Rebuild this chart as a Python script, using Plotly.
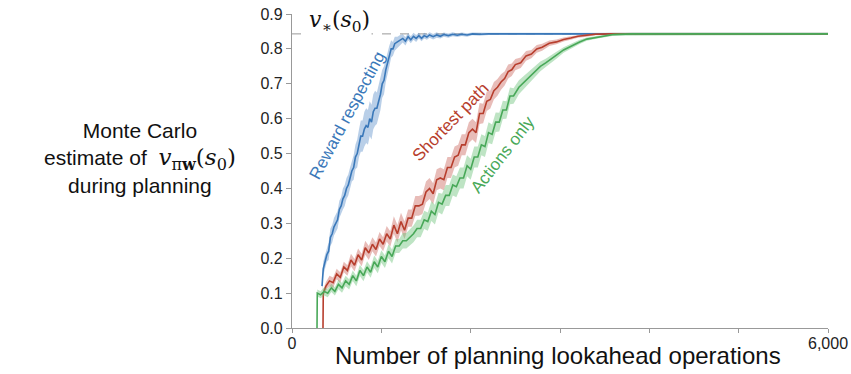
import plotly.graph_objects as go

# ---------------- data ----------------
v_star = 0.843

blue_x = [336, 350, 370, 390, 410, 430, 450, 470, 490, 510,
          530, 550, 570, 590, 610, 630, 650, 670, 690,
          710, 730, 750, 770, 790, 810, 830, 850, 870, 890,
          910, 930, 950, 970, 990, 1010, 1030, 1050, 1070, 1090,
          1110, 1130, 1150, 1180, 1210, 1240, 1270, 1300, 1330, 1360, 1390,
          1420, 1450, 1480, 1510, 1540, 1580, 1620, 1660, 1700, 1750, 1800,
          1850, 1900, 1960, 2020, 2100, 2200, 6000]
blue_y = [0.12, 0.17, 0.19, 0.21, 0.22, 0.26, 0.27, 0.29, 0.30, 0.31,
          0.34, 0.35, 0.37, 0.38, 0.40, 0.41, 0.43, 0.45, 0.46,
          0.49, 0.50, 0.53, 0.55, 0.55, 0.57, 0.58, 0.575, 0.60, 0.59,
          0.62, 0.63, 0.63, 0.65, 0.67, 0.70, 0.71, 0.74, 0.76, 0.78,
          0.80, 0.80, 0.815, 0.82, 0.825, 0.83, 0.822, 0.835, 0.826, 0.836, 0.83,
          0.838, 0.83, 0.838, 0.834, 0.84, 0.835, 0.84, 0.836, 0.841, 0.838, 0.842,
          0.839, 0.842, 0.84, 0.843, 0.842, 0.843, 0.843]
blue_band = [0.015, 0.02, 0.02, 0.02, 0.025, 0.025, 0.025, 0.025, 0.025, 0.025,
             0.025, 0.025, 0.03, 0.03, 0.03, 0.03, 0.03, 0.03, 0.035,
             0.035, 0.04, 0.04, 0.045, 0.045, 0.05, 0.05, 0.05, 0.05, 0.05,
             0.05, 0.05, 0.045, 0.045, 0.045, 0.04, 0.04, 0.035, 0.03, 0.03,
             0.025, 0.02, 0.02, 0.015, 0.015, 0.012, 0.012, 0.01, 0.01, 0.01, 0.01,
             0.008, 0.008, 0.008, 0.008, 0.008, 0.008, 0.008, 0.006, 0.006, 0.006, 0.006,
             0.005, 0.005, 0.005, 0.004, 0.004, 0.003, 0.003]

red_x = [347, 350, 380, 420, 460, 500, 540, 580, 620, 660,
         700, 740, 780, 820, 860, 900, 940, 980, 1020, 1060,
         1100, 1140, 1180, 1220, 1260, 1300, 1340, 1380, 1420, 1460,
         1500, 1540, 1580, 1620, 1660, 1700, 1740, 1780, 1820, 1860,
         1900, 1940, 1980, 2020, 2060, 2100, 2140, 2180, 2220, 2260,
         2300, 2340, 2380, 2420, 2460, 2500, 2560, 2620, 2680, 2740,
         2800, 2880, 2960, 3040, 3120, 3200, 3300, 3400, 3600, 6000]
red_y = [0.0, 0.10, 0.12, 0.135, 0.13, 0.155, 0.145, 0.175, 0.165, 0.195,
         0.18, 0.21, 0.195, 0.23, 0.215, 0.24, 0.225, 0.255, 0.24, 0.27,
         0.255, 0.295, 0.27, 0.305, 0.28, 0.315, 0.315, 0.35, 0.35, 0.355,
         0.39, 0.40, 0.385, 0.425, 0.43, 0.425, 0.46, 0.46, 0.49, 0.495,
         0.525, 0.525, 0.56, 0.57, 0.56, 0.615, 0.615, 0.65, 0.655, 0.68,
         0.69, 0.705, 0.715, 0.735, 0.74, 0.755, 0.76, 0.78, 0.785, 0.80,
         0.805, 0.816, 0.82, 0.827, 0.831, 0.836, 0.839, 0.842, 0.843, 0.843]
red_band = [0.0, 0.01, 0.012, 0.015, 0.015, 0.015, 0.015, 0.015, 0.015, 0.018,
            0.018, 0.018, 0.018, 0.02, 0.02, 0.02, 0.02, 0.02, 0.02, 0.022,
            0.022, 0.025, 0.025, 0.025, 0.025, 0.025, 0.025, 0.028, 0.028, 0.028,
            0.03, 0.03, 0.03, 0.03, 0.03, 0.03, 0.03, 0.03, 0.03, 0.03,
            0.03, 0.03, 0.03, 0.03, 0.03, 0.03, 0.028, 0.028, 0.026, 0.025,
            0.024, 0.022, 0.02, 0.02, 0.018, 0.016, 0.015, 0.014, 0.012, 0.011,
            0.01, 0.008, 0.007, 0.006, 0.005, 0.004, 0.004, 0.003, 0.003, 0.003]

green_x = [280, 283, 320, 360, 400, 440, 480, 520, 560, 600,
           640, 680, 720, 760, 800, 840, 880, 920, 960, 1000,
           1040, 1080, 1120, 1160, 1200, 1240, 1280, 1320, 1360, 1400,
           1440, 1480, 1520, 1560, 1600, 1640, 1680, 1720, 1760, 1800,
           1840, 1880, 1920, 1960, 2000, 2040, 2080, 2120, 2160, 2200,
           2240, 2280, 2320, 2360, 2400, 2440, 2480, 2540, 2600, 2660,
           2720, 2780, 2840, 2900, 2960, 3040, 3120, 3220, 3300, 3420,
           3600, 3800, 6000]
green_y = [0.0, 0.10, 0.095, 0.105, 0.10, 0.115, 0.105, 0.125, 0.115, 0.135,
           0.125, 0.15, 0.135, 0.165, 0.15, 0.175, 0.16, 0.19, 0.175, 0.205,
           0.19, 0.22, 0.205, 0.235, 0.235, 0.25, 0.25, 0.26, 0.27, 0.285,
           0.285, 0.31, 0.305, 0.335, 0.325, 0.36, 0.355, 0.38, 0.38, 0.41,
           0.405, 0.43, 0.43, 0.465, 0.455, 0.49, 0.49, 0.525, 0.52, 0.56,
           0.555, 0.59, 0.59, 0.625, 0.625, 0.665, 0.665, 0.69, 0.705, 0.72,
           0.735, 0.75, 0.76, 0.772, 0.782, 0.797, 0.808, 0.82, 0.828, 0.834,
           0.841, 0.843, 0.843]
green_band = [0.0, 0.01, 0.01, 0.012, 0.012, 0.012, 0.012, 0.014, 0.014, 0.015,
              0.015, 0.015, 0.015, 0.016, 0.016, 0.016, 0.016, 0.018, 0.018, 0.018,
              0.018, 0.02, 0.02, 0.02, 0.02, 0.022, 0.022, 0.024, 0.024, 0.025,
              0.025, 0.026, 0.026, 0.028, 0.028, 0.028, 0.03, 0.03, 0.03, 0.03,
              0.03, 0.03, 0.03, 0.03, 0.03, 0.03, 0.03, 0.03, 0.03, 0.03,
              0.028, 0.028, 0.027, 0.026, 0.025, 0.024, 0.022, 0.02, 0.018, 0.016,
              0.015, 0.014, 0.012, 0.011, 0.01, 0.008, 0.007, 0.006, 0.005, 0.004,
              0.003, 0.003, 0.003]

x_tickvals = [0, 1000, 2000, 3000, 4000, 5000, 6000]
x_ticktext = ["0", "", "", "", "", "", "6,000"]
y_tickvals = [0.0, 0.1, 0.2, 0.3, 0.4, 0.5, 0.6, 0.7, 0.8, 0.9]
y_ticktext = ["0.0", "0.1", "0.2", "0.3", "0.4", "0.5", "0.6", "0.7", "0.8", "0.9"]

series = [
    ("Reward respecting", blue_x, blue_y, blue_band, "rgb(58,120,185)", "rgba(70,130,195,0.38)"),
    ("Shortest path", red_x, red_y, red_band, "rgb(183,62,45)", "rgba(200,95,85,0.42)"),
    ("Actions only", green_x, green_y, green_band, "rgb(72,168,88)", "rgba(100,190,115,0.42)"),
]

fig = go.Figure()

for name, xs, ys, hw, lc, fc in series:
    assert len(xs) == len(ys) == len(hw), name
    upper = [y + h for y, h in zip(ys, hw)]
    lower = [y - h for y, h in zip(ys, hw)]
    fig.add_trace(go.Scatter(
        x=xs + xs[::-1], y=upper + lower[::-1], fill="toself",
        fillcolor=fc, line=dict(width=0), mode="lines",
        hoverinfo="skip", showlegend=False))
    fig.add_trace(go.Scatter(
        x=xs, y=ys, mode="lines", name=name,
        line=dict(color=lc, width=1.6), showlegend=False))

# dashed v* line
fig.add_shape(type="line", x0=0, x1=6000, y0=v_star, y1=v_star,
              xref="x", yref="y", layer="below",
              line=dict(color="#999999", width=1, dash="dash"))

serif = "DejaVu Serif, Liberation Serif, serif"
sans = "Liberation Sans, Arial, Helvetica, sans-serif"

fig.add_annotation(x=537, y=v_star, xref="x", yref="y",
                   text="<i>v</i><sub>∗</sub>(<i>s</i><sub>0</sub>)",
                   showarrow=False, xanchor="center", yanchor="bottom", yshift=-4,
                   bgcolor="white", borderpad=1,
                   font=dict(family=serif, size=22, color="#111"))

# series labels
fig.add_annotation(x=616, y=0.61, xref="x", yref="y", text="Reward respecting",
                   showarrow=False, textangle=-62, xanchor="center", yanchor="middle",
                   font=dict(family=sans, size=17, color="rgb(58,120,185)"))
fig.add_annotation(x=1769, y=0.59, xref="x", yref="y", text="Shortest path",
                   showarrow=False, textangle=-46, xanchor="center", yanchor="middle",
                   font=dict(family=sans, size=17, color="rgb(183,62,45)"))
fig.add_annotation(x=2362, y=0.496, xref="x", yref="y", text="Actions only",
                   showarrow=False, textangle=-52, xanchor="center", yanchor="middle",
                   font=dict(family=sans, size=17, color="rgb(72,168,88)"))

# axis titles
fig.add_annotation(x=(140 - 292) / 536, y=(328 - 158) / 314, xref="paper", yref="paper",
                   xanchor="center", yanchor="middle",
                   text=("Monte Carlo<br>estimate of  "
                         "<span style='font-family:DejaVu Serif;font-size:23px'><i>v</i><sub>π<b>w</b></sub>(<i>s</i><sub>0</sub>)</span>"
                         "<br>during planning"),
                   showarrow=False, align="center",
                   font=dict(family=sans, size=21, color="#111"))
fig.add_annotation(x=(558 - 292) / 536, y=(328 - 355) / 314, xref="paper", yref="paper",
                   xanchor="center", yanchor="middle",
                   text="Number of planning lookahead operations",
                   showarrow=False, font=dict(family=sans, size=24, color="#111"))

fig.update_layout(
    width=851, height=374,
    margin=dict(l=292, r=23, t=14, b=46, autoexpand=False),
    paper_bgcolor="white", plot_bgcolor="white",
    showlegend=False,
    xaxis=dict(range=[0, 6000], showgrid=False, zeroline=False, automargin=False,
               showline=True, linecolor="#999999", linewidth=1.2,
               ticks="outside", ticklen=4, tickcolor="#999999",
               ticklabelstandoff=-3,
               tickvals=x_tickvals, ticktext=x_ticktext,
               tickfont=dict(family=sans, size=16, color="#222")),
    yaxis=dict(range=[0, 0.9], showgrid=False, zeroline=False, automargin=False,
               showline=True, linecolor="#999999", linewidth=1.2,
               ticks="outside", ticklen=5, tickcolor="#999999",
               tickvals=y_tickvals, ticktext=y_ticktext,
               tickfont=dict(family=sans, size=16, color="#222")),
)

fig.write_html("out.html", config={"displayModeBar": False},
               post_script="document.body.style.margin='0px';")
